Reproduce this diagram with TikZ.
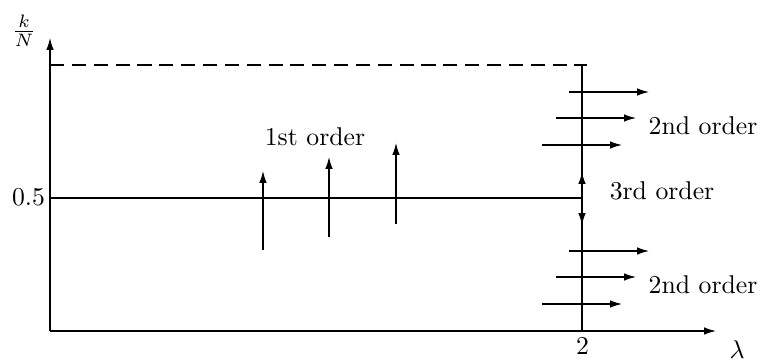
\documentclass[tikz,border=0pt]{standalone}
\usetikzlibrary{arrows.meta}
\begin{document}
\begin{tikzpicture}[x=0.389pt,y=-0.389pt,
  ln/.style={line width=0.5pt},
  arr/.style={ln,-{Latex[length=4.6pt,width=2.9pt]}},
  lbl/.style={inner sep=0pt,font=\normalsize}]
\useasboundingbox (0,0) rectangle (765,364);
% axes
\coordinate (O) at (50,331);
\coordinate (Ytop) at (50,38);
\coordinate (Xend) at (716,331);
\draw[arr] (O) -- (Ytop);
\draw[arr] (O) -- (Xend);
% dashed top line
\coordinate (D1) at (50,65);
\coordinate (D2) at (587,65);
\draw[ln,dashed,dash pattern=on 5.5pt off 3pt] (D1) -- (D2);
% vertical line at lambda=2
\coordinate (V1) at (582,65);
\coordinate (V2) at (582,331);
\draw[ln] (V1) -- (V2);
% horizontal 0.5 line
\coordinate (H1) at (50,198);
\coordinate (H2) at (582,198);
\draw[ln] (H1) -- (H2);
% 3rd order arrows
\coordinate (T0) at (582,198);
\coordinate (Tu) at (582,172);
\coordinate (Td) at (582,225);
\draw[arr] (T0) -- (Tu);
\draw[arr] (T0) -- (Td);
% 2nd order arrows top
\coordinate (a1s) at (569,92);  \coordinate (a1e) at (649,92);
\coordinate (a2s) at (556,118); \coordinate (a2e) at (636,118);
\coordinate (a3s) at (542,145); \coordinate (a3e) at (622,145);
\draw[arr] (a1s) -- (a1e);
\draw[arr] (a2s) -- (a2e);
\draw[arr] (a3s) -- (a3e);
% 2nd order arrows bottom
\coordinate (b1s) at (569,251); \coordinate (b1e) at (649,251);
\coordinate (b2s) at (556,277); \coordinate (b2e) at (636,277);
\coordinate (b3s) at (542,304); \coordinate (b3e) at (622,304);
\draw[arr] (b1s) -- (b1e);
\draw[arr] (b2s) -- (b2e);
\draw[arr] (b3s) -- (b3e);
% 1st order arrows
\coordinate (c1s) at (263,250); \coordinate (c1e) at (263,171);
\coordinate (c2s) at (329,237); \coordinate (c2e) at (329,157);
\coordinate (c3s) at (396,224); \coordinate (c3e) at (396,143);
\draw[arr] (c1s) -- (c1e);
\draw[arr] (c2s) -- (c2e);
\draw[arr] (c3s) -- (c3e);
% labels
\node[lbl] (l1) at (315,137) {1st order};
\node[lbl] (l2a) at (703,126) {2nd order};
\node[lbl] (l2b) at (703,285) {2nd order};
\node[lbl] (l3) at (662,191) {3rd order};
\node[lbl] (half) at (28.5,197) {0.5};
\node[lbl] (two) at (582.5,346) {2};
\node[lbl] (lam) at (737,350) {$\lambda$};
\node[lbl] (kN) at (24,31) {$\frac{k}{N}$};
\end{tikzpicture}
\end{document}
